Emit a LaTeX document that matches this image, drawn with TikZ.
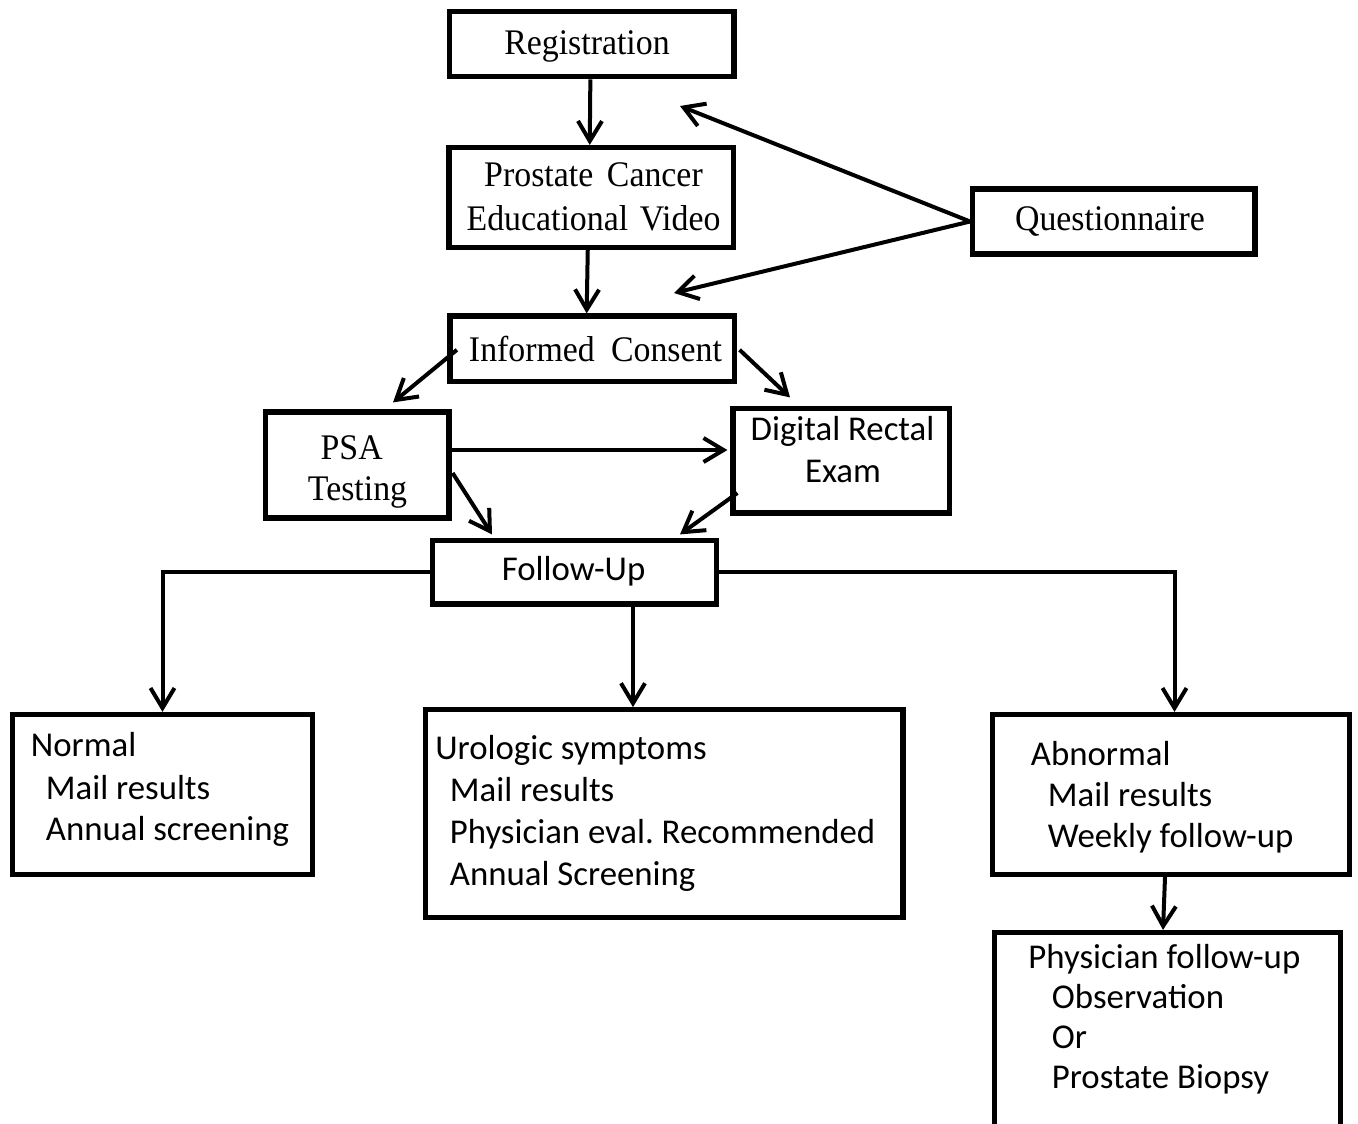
\documentclass[tikz,border=0pt]{standalone}
\usepackage{fontspec}
\newfontfamily\serifft[FakeStretch=0.94]{Liberation Serif}
\newfontfamily\sansft{Carlito}
\usetikzlibrary{arrows.meta,calc}
\frenchspacing
\begin{document}
\begin{tikzpicture}[x=0.5pt,y=-0.5pt,
  box/.style={draw, line width=2.6pt, rectangle, inner sep=0pt},
  arr/.style={line width=2pt, line join=miter, -{Straight Barb[length=10pt,width=12pt]}},
  stxt/.style={font=\serifft\fontsize{18}{21}\selectfont, inner sep=0pt},
  ftxt/.style={font=\sansft\fontsize{17.4}{21}\selectfont, inner sep=0pt},
]
\useasboundingbox (0,0) rectangle (1358,1123);

% boxes
\node[box, minimum width=142.15pt, minimum height=32.5pt]  (reg)    at (591.85,44.2) {};
\node[box, minimum width=142.25pt, minimum height=50pt]    (vid)    at (591.25,197.5) {};
\node[box, minimum width=141.15pt, minimum height=32.5pt]  (quest)  at (1113.85,221.5) {};
\node[box, minimum width=142.15pt, minimum height=32.85pt] (ic)     at (592.15,348.85) {};
\node[box, minimum width=91.75pt,  minimum height=53pt]    (psa)    at (357.25,465) {};
\node[box, minimum width=108.25pt, minimum height=52.35pt] (dre)    at (841.25,460.65) {};
\node[box, minimum width=141.8pt,  minimum height=31.75pt] (fu)     at (574.5,572.25) {};
\node[box, minimum width=150pt,    minimum height=80pt]    (normal) at (162.5,794.5) {};
\node[box, minimum width=238.75pt, minimum height=103.9pt] (uro)    at (664.25,813.6) {};
\node[box, minimum width=178.5pt,  minimum height=80pt]    (abn)    at (1171,794.5) {};
\node[box, minimum width=173pt,    minimum height=98.75pt] (phys)   at (1167.5,1031.25) {};

% texts
\node[stxt, anchor=base] (reg-t)   at (587,55) {Registration};
\node[stxt, anchor=base] (vid-t1)  at (593.5,186.7) {Prostate\hspace{0.38em}Cancer};
\node[stxt, anchor=base] (vid-t2)  at (593.5,230) {Educational\hspace{0.32em}Video};
\node[stxt, anchor=base] (quest-t) at (1110,230) {Questionnaire};
\node[stxt, anchor=base] (ic-t)    at (595.5,361) {Informed\hspace{0.45em}Consent};
\node[stxt, anchor=base] (psa-t1)  at (351.7,459.3) {PSA};
\node[stxt, anchor=base] (psa-t2)  at (357.5,500) {Testing};
\node[ftxt, anchor=base] (dre-t1)  at (842.5,440) {Digital Rectal};
\node[ftxt, anchor=base] (dre-t2)  at (843,482.3) {Exam};
\node[ftxt, anchor=base] (fu-t)    at (573.6,580) {Follow-Up};

\node[ftxt, anchor=base west] (normal-t1) at (30.5,756.7) {Normal};
\node[ftxt, anchor=base west] (normal-t2) at (45.5,799) {Mail results};
\node[ftxt, anchor=base west] (normal-t3) at (45.5,840) {Annual screening};

\node[ftxt, anchor=base west] (uro-t1) at (435,759) {Urologic symptoms};
\node[ftxt, anchor=base west] (uro-t2) at (449.5,801.7) {Mail results};
\node[ftxt, anchor=base west] (uro-t3) at (449.5,843) {Physician eval. Recommended};
\node[ftxt, anchor=base west] (uro-t4) at (449.5,885) {Annual Screening};

\node[ftxt, anchor=base west] (abn-t1) at (1030.5,765) {Abnormal};
\node[ftxt, anchor=base west] (abn-t2) at (1047.5,806.7) {Mail results};
\node[ftxt, anchor=base west] (abn-t3) at (1047.5,847) {Weekly follow-up};

\node[ftxt, anchor=base west] (phys-t1) at (1028,968) {Physician follow-up};
\node[ftxt, anchor=base west] (phys-t2) at (1051.5,1008.3) {Observation};
\node[ftxt, anchor=base west] (phys-t3) at (1051.5,1048) {Or};
\node[ftxt, anchor=base west] (phys-t4) at (1051.5,1088) {Prostate Biopsy};

% free ends of the questionnaire arrows
\coordinate (qa) at (680,106);
\coordinate (qb) at (674,293);

% connectors
\draw[arr] ($(reg.south)+(-1.5,0)$) -- ($(vid.north)+(-1.5,0)$);
\draw[arr] ($(vid.south)+(-3.5,0)$) -- ($(ic.north)+(-5.5,0)$);
\draw[arr] (quest.west) -- (qa);
\draw[arr] (quest.west) -- (qb);
\draw[arr] ($(ic.west)+(9.5,1)$) -- ($(psa.north)+(35.75,-7)$);
\draw[arr] ($(ic.east)+(2.7,1)$) -- ($(dre.north)+(-51.25,-8.3)$);
\draw[arr] ($(psa.east)+(0,-15)$) -- ($(dre.west)+(-3,-10.65)$);
\draw[arr] ($(psa.east)+(1,8)$) -- ($(fu.north)+(-82.5,-3.5)$);
\draw[arr] ($(dre.west)+(7,32.35)$) -- ($(fu.north)+(105.5,-3.5)$);
\draw[arr] (fu.west) -| (normal.north);
\coordinate (m1) at ($(fu.south)+(58.5,0)$);
\draw[arr] (m1) -- (m1 |- uro.north);
\draw[arr] (fu.east) -| ($(abn.north)+(3.5,0)$);
\draw[arr] ($(abn.south)+(-6,0)$) -- ($(phys.north)+(-4.5,0)$);
\end{tikzpicture}
\end{document}
